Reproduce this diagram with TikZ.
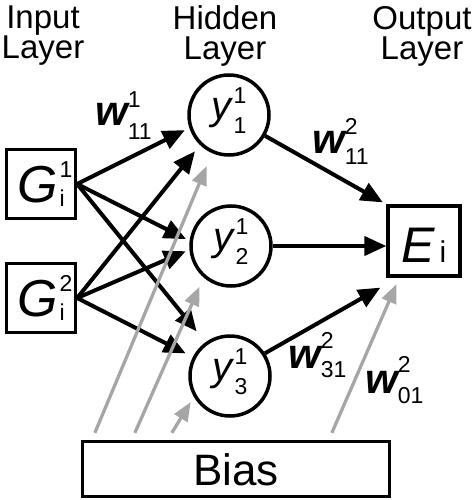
\documentclass[tikz,border=0pt]{standalone}
\usepackage{fontspec}
\setmainfont{Liberation Sans}
\usetikzlibrary{arrows.meta,calc}
\definecolor{BiasGray}{HTML}{A6A6A6}
\newcommand{\scr}{\normalfont\fontsize{23}{23}\selectfont}
\newcommand{\idx}[5]{#1\rlap{\raisebox{#4}{\scr #2}}\raisebox{#5}{\scr #3}}
\tikzset{
  layertitle/.style={align=center, inner sep=0pt, font=\fontsize{33}{30}\selectfont},
  unitbox/.style={draw, line width=3.3pt, minimum width=69pt, minimum height=69pt, inner sep=0pt,
                  font=\fontsize{52}{52}\selectfont, text height=40pt, text depth=4pt},
  neuron/.style={circle, draw, line width=3.5pt, minimum size=80pt, inner sep=0pt,
                 font=\fontsize{40}{40}\selectfont, text height=28pt, text depth=20pt},
  wlabel/.style={inner sep=0pt, anchor=base west, font=\fontsize{42}{42}\selectfont\bfseries\itshape},
  sigarr/.style={-{Triangle[length=22pt,width=19pt]}, line width=4pt},
  biasarr/.style={-{Triangle[length=19pt,width=15pt]}, line width=3.3pt, BiasGray}
}
\begin{document}
\begin{tikzpicture}[x=1pt, y=-1pt]
\useasboundingbox (0,0) rectangle (474,500);
% layer titles
\node[layertitle] (inT) at (43,36) {Input\\Layer};
\node[layertitle] (hidT) at (225,36) {Hidden\\Layer};
\node[layertitle] (outT) at (422,36) {Output\\Layer};
% units
\node[unitbox] (G1) at (41,184) {\idx{\textit{G}\kern2pt}{1}{i}{0.48em}{-0.08em}};
\node[unitbox] (G2) at (41,298) {\idx{\textit{G}\kern2pt}{2}{i}{0.48em}{-0.08em}};
\node[neuron] (y1) at (229,115) {\idx{\textit{y}}{1}{1}{0.4em}{-0.35em}};
\node[neuron] (y2) at (231,246) {\idx{\textit{y}}{1}{2}{0.4em}{-0.35em}};
\node[neuron] (y3) at (230,376) {\idx{\textit{y}}{1}{3}{0.4em}{-0.35em}};
\node[unitbox, minimum width=72pt, minimum height=70pt, font=\fontsize{50}{50}\selectfont,
      text height=44pt, text depth=2pt] (E) at (424,241) {\textit{E}\hspace{4pt}{\normalfont\fontsize{30}{30}\selectfont i}};
\node[draw, line width=3.3pt, minimum width=307pt, minimum height=55pt, inner sep=0pt,
      font=\fontsize{44}{44}\selectfont, text height=34pt, text depth=2pt] (bias) at (236,469) {Bias};
% input -> hidden
\draw[sigarr, shorten >=5pt] (G1.east) -- (y1.198);
\draw[sigarr, shorten >=4pt] (G1.east) -- (y2.173);
\draw[sigarr, shorten >=14pt] (G1.east) -- (y3.126);
\draw[sigarr, shorten >=8pt] (G2.east) -- (y1.226);
\draw[sigarr, shorten >=4pt] (G2.east) -- (y2.185);
\draw[sigarr, shorten >=8pt] (G2.east) -- (y3.153);
% hidden -> output
\draw[sigarr, shorten >=4pt] (y1.-30) -- (E.north west);
\draw[sigarr] (y2.east) -- (y2.east -| E.west);
\draw[sigarr] (y3.33) -- ($(E.south west)+(-6,10)$);
% bias
\coordinate (b1) at ($(bias.north west)+(14,-7)$);
\coordinate (b2) at ($(bias.north west)+(54,-7)$);
\coordinate (b3) at ($(bias.north west)+(91,-7)$);
\coordinate (b4) at ($(bias.north west)+(251,-7)$);
\draw[biasarr, shorten >=14pt] (b1) -- (y1.246);
\draw[biasarr, shorten >=10pt] (b2) -- (y2.229);
\draw[biasarr, shorten >=6pt] (b3) -- (y3.210);
\draw[biasarr, shorten >=7pt] (b4) -- ($(E.south west)+(13,0)$);
% weights
\node[wlabel] (w111) at (95,125) {\idx{w}{1}{11}{0.42em}{-0.35em}};
\node[wlabel] (w211) at (312,153) {\idx{w}{2}{11}{0.45em}{-0.28em}};
\node[wlabel] (w231) at (288,368) {\idx{w}{2}{31}{0.47em}{-0.22em}};
\node[wlabel] (w201) at (365,393) {\idx{w}{2}{01}{0.5em}{-0.24em}};
\end{tikzpicture}
\end{document}
